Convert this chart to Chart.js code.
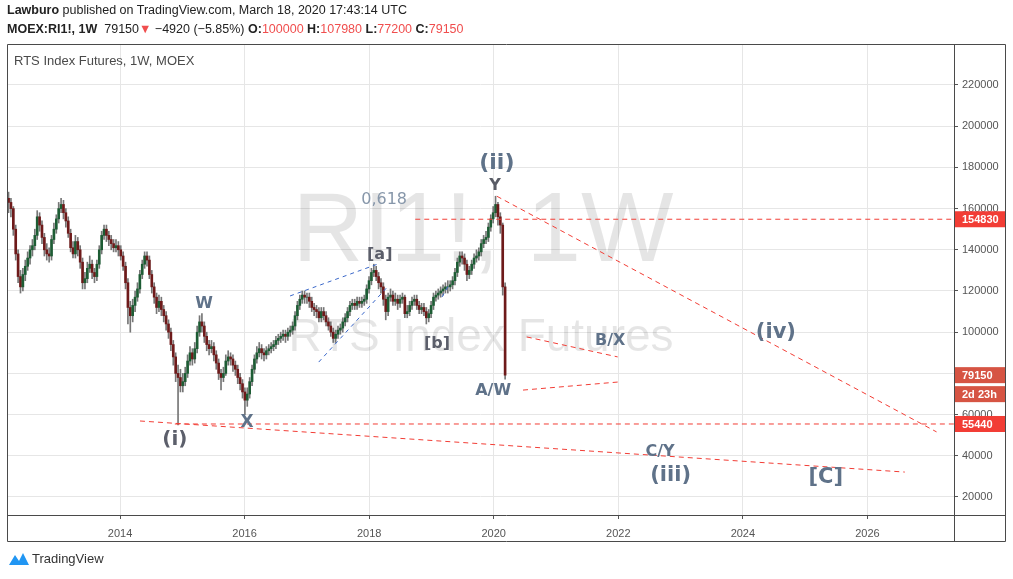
<!DOCTYPE html>
<html>
<head>
<meta charset="utf-8">
<script src="https://cdn.jsdelivr.net/npm/chart.js@4.4.1/dist/chart.umd.min.js"></script>
<style>
  body { margin: 0; background: #fff; font-family: "Liberation Sans", Arial, sans-serif; }
  #wrap { position: relative; width: 1013px; height: 579px; overflow: hidden; }
  #c { position: absolute; left: 0; top: 0; }
  .hdr { position: absolute; left: 7px; font-size: 12.5px; color: #222; white-space: nowrap; }
  .red { color: #f04e4e; }
  #logo { position: absolute; left: 9px; top: 551px; font-size: 13px; color: #333; display: flex; align-items: center; gap: 3px; }
</style>
</head>
<body>
<div id="wrap">
  <canvas id="c" width="1013" height="579"></canvas>
  <div class="hdr" style="top:3px"><b>Lawburo</b> published on TradingView.com, March 18, 2020 17:43:14 UTC</div>
  <div class="hdr" style="top:22px"><b>MOEX:RI1!, 1W</b>&nbsp; 79150<span class="red">▼</span> −4920 (−5.85%) <b>O:</b><span class="red">100000</span> <b>H:</b><span class="red">107980</span> <b>L:</b><span class="red">77200</span> <b>C:</b><span class="red">79150</span></div>
  <div id="logo">
    <svg width="20" height="14" viewBox="0 0 20 14"><path d="M0 13 L6 3 L10 9 L14 1 L20 13 Z" fill="#2196f3"/></svg>
    <span>TradingView</span>
  </div>
</div>
<script>
// RTS Index Futures, 1W candles sampled every two weeks, Mar 2012 - Mar 2020
var startYear = 2012.21
var stepYears = 14 / 365.25
var firstOpen = 165000

var closes = [
  163000,160000,150000,138000,127000,122000,128000,132000,136000,140000,
  142000,147000,156000,152000,146000,140000,138000,137000,145000,150000,
  155000,160000,162000,158000,154000,148000,141000,138000,144000,140000,
  134000,124000,126000,131000,133000,129000,127000,133000,140000,147000,
  150000,147000,145000,143000,141000,142000,140000,137000,132000,124000,
  112000,108000,113000,117000,121000,128000,133000,137000,135000,128000,
  122000,117000,112000,115000,111000,108000,104000,100000,94000,88000,
  80000,78000,74000,76000,80000,86000,90000,87000,92000,100000,
  105000,103000,98000,94000,92000,93000,89000,85000,80000,78000,
  80000,86000,88000,87000,84000,82000,78000,75000,71000,67000,
  70000,76000,82000,87000,90000,92000,90000,89000,91000,92000,
  93000,94000,96000,97000,98000,99000,98000,100000,101000,103000,
  108000,113000,116000,118000,117000,117000,115000,112000,111000,110000,
  107000,110000,108000,105000,103000,100000,97000,99000,101000,102000,
  105000,107000,110000,113000,114000,113000,115000,114000,115000,116000,
  121000,125000,129000,130000,127000,124000,122000,116000,110000,117000,
  118000,115000,116000,114000,116000,117000,109000,110000,113000,115000,
  116000,113000,111000,112000,110000,107000,109000,113000,117000,118000,
  119000,120000,121000,122000,122000,123000,125000,129000,134000,137000,
  136000,133000,128000,130000,133000,136000,137000,139000,143000,145000,
  146000,151000,155000,158000,162000,156000,152000,122000,79150
]
var highs = [
  168000,165000,161000,152000,140000,130000,131000,135000,139000,142000,
  145000,150000,159000,158000,154000,148000,143000,141000,147000,153000,
  157000,163000,165000,164000,160000,156000,150000,144000,147000,146000,
  142000,136000,129000,134000,137000,135000,131000,135000,142000,149000,
  152000,152000,149000,147000,145000,145000,144000,142000,139000,134000,
  126000,115000,116000,120000,124000,130000,135000,139000,139000,137000,
  130000,124000,119000,118000,117000,113000,110000,106000,102000,96000,
  90000,84000,82000,80000,83000,89000,93000,92000,95000,103000,
  108000,109000,105000,100000,96000,96000,95000,91000,87000,82000,
  83000,89000,91000,90000,89000,86000,84000,80000,77000,73000,
  73000,78000,84000,89000,93000,95000,94000,92000,93000,94000,
  95000,96000,98000,99000,100000,101000,101000,102000,103000,105000,
  110000,115000,118000,120000,120000,119000,119000,117000,114000,113000,
  112000,112000,112000,110000,107000,105000,102000,101000,103000,104000,
  107000,109000,112000,115000,116000,116000,117000,117000,117000,118000,
  123000,127000,131000,133000,132000,129000,126000,124000,118000,119000,
  121000,120000,119000,118000,118000,119000,118000,113000,115000,117000,
  118000,118000,115000,114000,114000,112000,111000,115000,119000,120000,
  121000,122000,123000,124000,125000,125000,127000,131000,136000,139000,
  139000,138000,135000,132000,135000,138000,140000,141000,145000,147000,
  149000,153000,157000,161000,166000,163000,158000,153000,124000
]
var lows = [
  158000,156000,147000,135000,124000,119000,120000,125000,130000,133000,
  137000,140000,145000,149000,143000,137000,135000,134000,135000,143000,
  148000,153000,158000,155000,151000,146000,139000,136000,136000,137000,
  131000,121000,121000,124000,129000,126000,124000,125000,131000,138000,
  145000,144000,142000,140000,139000,139000,137000,135000,130000,121000,
  104000,100000,105000,110000,115000,119000,126000,131000,132000,126000,
  119000,114000,109000,110000,108000,105000,101000,97000,91000,84000,
  76000,55000,71000,71000,74000,78000,84000,84000,85000,90000,
  98000,100000,95000,91000,89000,90000,86000,82000,77000,72000,
  76000,79000,84000,84000,81000,79000,75000,72000,68000,60000,
  64000,68000,74000,80000,85000,88000,87000,86000,87000,89000,
  90000,91000,92000,94000,95000,96000,95000,96000,98000,99000,
  101000,106000,111000,114000,114000,114000,112000,110000,108000,107000,
  105000,105000,106000,103000,101000,98000,95000,95000,97000,99000,
  100000,103000,105000,108000,111000,111000,111000,112000,112000,113000,
  114000,119000,123000,127000,125000,121000,119000,113000,106000,108000,
  115000,113000,113000,111000,112000,114000,107000,107000,108000,111000,
  113000,111000,109000,109000,108000,104000,105000,107000,111000,115000,
  116000,117000,118000,119000,119000,120000,121000,123000,127000,132000,
  133000,130000,125000,126000,128000,131000,134000,135000,137000,141000,
  143000,144000,149000,153000,156000,152000,148000,118000,77200
]

var yearTicks = [2014, 2016, 2018, 2020, 2022, 2024, 2026]
var priceTicks = [20000, 40000, 60000, 80000, 100000, 120000, 140000, 160000, 180000, 200000, 220000]

// levels and wave-count drawing (year, price)
var fibLevel = 154830
var supportLevel = 55440
var lastPrice = 79150
var redLines = [
  [2018.74, 154830, 2027.39, 154830],
  [2014.88, 55440, 2027.39, 55440],
  [2014.32, 56900, 2026.6, 32100],
  [2020.05, 166000, 2027.11, 51600],
  [2020.53, 97700, 2021.99, 88000],
  [2020.47, 71900, 2021.99, 75800]
]
var blueLines = [
  [2016.73, 117600, 2018.14, 133100],
  [2017.19, 85500, 2018.29, 121900],
  [2019.17, 117100, 2019.28, 122900]
]
var waveLabels = [
  ['(i)', 2014.88, 47700, 20, '#5c5f6b'],
  ['W', 2015.35, 113700, 16, '#5f7289'],
  ['X', 2016.04, 55900, 17, '#5f7289'],
  ['[a]', 2018.17, 137500, 16, '#5b5e6a'],
  ['[b]', 2019.09, 94300, 16, '#5b5e6a'],
  ['(ii)', 2020.05, 182100, 22, '#5f7289'],
  ['Y', 2020.02, 171000, 16, '#595c66'],
  ['A/W', 2019.99, 71400, 16, '#5f7289'],
  ['B/X', 2021.87, 95700, 16, '#5f7289'],
  ['(iv)', 2024.53, 99600, 21, '#5f7289'],
  ['C/Y', 2022.67, 41800, 16, '#5f7289'],
  ['(iii)', 2022.84, 30200, 21, '#5f7289'],
  ['[C]', 2025.33, 29200, 21, '#5f7289']
]

var wicks = []
var bodies = []
var bodyColors = []
closes.forEach(function (c, i) {
  var x = startYear + i * stepYears
  var o = i === 0 ? firstOpen : closes[i - 1]
  wicks.push({ x: x, y: [lows[i], highs[i]] })
  bodies.push({ x: x, y: [o, c] })
  bodyColors.push(c >= o ? '#1d5c34' : '#6e1a1a')
})

var overlay = {
  id: 'overlay',
  beforeDatasetsDraw: function (chart) {
    var ctx = chart.ctx
    ctx.save()
    ctx.fillStyle = 'rgba(0,0,0,0.1)'
    ctx.textAlign = 'center'
    ctx.textBaseline = 'middle'
    ctx.font = '98px "Liberation Sans", Arial, sans-serif'
    ctx.fillText('RI1!, 1W', 483, 234)
    ctx.font = '46px "Liberation Sans", Arial, sans-serif'
    ctx.fillText('RTS Index Futures', 481, 338)
    ctx.restore()
  },
  afterDatasetsDraw: function (chart) {
    var ctx = chart.ctx, a = chart.chartArea
    var xs = chart.scales.x, ys = chart.scales.y
    ctx.save()
    ctx.beginPath()
    ctx.rect(a.left, a.top, a.right - a.left, a.bottom - a.top)
    ctx.clip()
    ctx.lineWidth = 1
    ctx.setLineDash([5, 4])
    ctx.strokeStyle = '#f23d35'
    redLines.forEach(function (l) {
      ctx.beginPath()
      ctx.moveTo(xs.getPixelForValue(l[0]), ys.getPixelForValue(l[1]))
      ctx.lineTo(xs.getPixelForValue(l[2]), ys.getPixelForValue(l[3]))
      ctx.stroke()
    })
    ctx.setLineDash([4, 4])
    ctx.strokeStyle = '#3a67c9'
    blueLines.forEach(function (l) {
      ctx.beginPath()
      ctx.moveTo(xs.getPixelForValue(l[0]), ys.getPixelForValue(l[1]))
      ctx.lineTo(xs.getPixelForValue(l[2]), ys.getPixelForValue(l[3]))
      ctx.stroke()
    })
    ctx.setLineDash([])
    ctx.textAlign = 'center'
    ctx.textBaseline = 'middle'
    ctx.font = '16px "DejaVu Sans", Verdana, sans-serif'
    ctx.fillStyle = '#8797aa'
    ctx.fillText('0,618', xs.getPixelForValue(2018.24), ys.getPixelForValue(164200))
    waveLabels.forEach(function (t) {
      ctx.font = 'bold ' + t[3] + 'px "DejaVu Sans", Verdana, sans-serif'
      ctx.fillStyle = t[4]
      ctx.fillText(t[0], xs.getPixelForValue(t[1]), ys.getPixelForValue(t[2]))
    })
    ctx.restore()
  },
  afterDraw: function (chart) {
    var ctx = chart.ctx, a = chart.chartArea
    var ys = chart.scales.y
    ctx.save()
    ctx.strokeStyle = '#4a4a4a'
    ctx.lineWidth = 1
    ctx.beginPath()
    ctx.rect(7.5, 44.5, 998, 497)
    ctx.moveTo(Math.round(a.right) + 0.5, 44)
    ctx.lineTo(Math.round(a.right) + 0.5, 542)
    ctx.moveTo(7, Math.round(a.bottom) + 0.5)
    ctx.lineTo(1006, Math.round(a.bottom) + 0.5)
    ctx.stroke()
    ctx.font = 'bold 11px "Liberation Sans", Arial, sans-serif'
    ctx.textBaseline = 'middle'
    ctx.textAlign = 'left'
    function box(label, y, color, h) {
      ctx.fillStyle = color
      ctx.fillRect(a.right + 1, y - h / 2, 50, h)
      ctx.fillStyle = '#fff'
      ctx.fillText(label, a.right + 8, y + 1)
    }
    var yLast = ys.getPixelForValue(lastPrice)
    box(String(fibLevel), ys.getPixelForValue(fibLevel), '#f23d35', 16)
    box(String(lastPrice), yLast, '#d65443', 16)
    box('2d 23h', yLast + 19, '#d65443', 16)
    box(String(supportLevel), ys.getPixelForValue(supportLevel), '#f23d35', 16)
    ctx.fillStyle = '#4a4a4a'
    ctx.font = '13px "Liberation Sans", Arial, sans-serif'
    ctx.fillText('RTS Index Futures, 1W, MOEX', 14, 61)
    ctx.restore()
  }
}

new Chart(document.getElementById('c'), {
  type: 'bar',
  data: {
    datasets: [
      { data: wicks, backgroundColor: '#767676', barThickness: 1, grouped: false, order: 2 },
      { data: bodies, backgroundColor: bodyColors, barThickness: 2, grouped: false, order: 1 }
    ]
  },
  options: {
    responsive: false,
    animation: false,
    layout: { padding: { left: 7, top: 44, right: 7, bottom: 37 } },
    plugins: { legend: { display: false }, tooltip: { enabled: false } },
    scales: {
      x: {
        type: 'linear',
        min: 2012.185,
        max: 2027.39,
        offset: false,
        afterBuildTicks: function (s) { s.ticks = yearTicks.map(function (v) { return { value: v } }) },
        afterFit: function (s) { s.height = 27 },
        grid: { offset: false, color: '#e6e6e6', tickLength: 4, tickColor: '#555' },
        border: { display: false },
        ticks: {
          color: '#555', maxRotation: 0, padding: 8,
          font: { size: 11, family: '"Liberation Sans", Arial, sans-serif' },
          callback: function (v) { return String(v) }
        }
      },
      y: {
        position: 'right',
        min: 11260,
        max: 239900,
        afterBuildTicks: function (s) { s.ticks = priceTicks.map(function (v) { return { value: v } }) },
        afterFit: function (s) { s.width = 52 },
        grid: { color: '#e6e6e6', tickLength: 4, tickColor: '#555' },
        border: { display: false },
        ticks: {
          color: '#555', padding: 4,
          font: { size: 11, family: '"Liberation Sans", Arial, sans-serif' },
          callback: function (v) { return String(v) }
        }
      }
    }
  },
  plugins: [overlay]
})
</script>
</body>
</html>
